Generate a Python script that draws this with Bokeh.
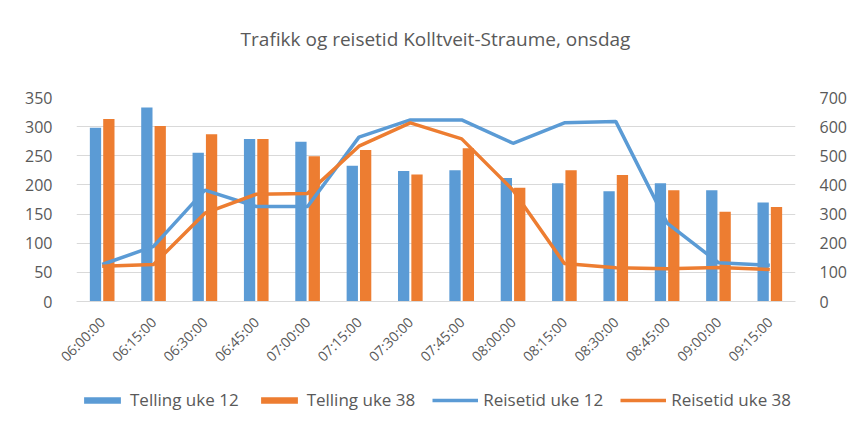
import math
from bokeh.plotting import figure
from bokeh.layouts import column
from bokeh.models import (ColumnDataSource, FactorRange, Range1d, LinearAxis, FixedTicker,
                          Legend, LegendItem, Label)
from bokeh.transform import dodge
from bokeh.embed import file_html
from bokeh.resources import INLINE

times = ["06:00:00", "06:15:00", "06:30:00", "06:45:00", "07:00:00", "07:15:00", "07:30:00",
         "07:45:00", "08:00:00", "08:15:00", "08:30:00", "08:45:00", "09:00:00", "09:15:00"]
telling_uke12 = [298, 333, 255, 279, 274, 233, 224, 225, 212, 203, 189, 203, 191, 170]
telling_uke38 = [313, 301, 287, 279, 249, 260, 218, 263, 195, 225, 217, 191, 154, 162]
reisetid_uke12 = [127, 189, 382, 326, 326, 564, 623, 623, 543, 613, 618, 269, 133, 124]
reisetid_uke38 = [121, 127, 303, 368, 371, 533, 613, 558, 382, 130, 116, 112, 117, 110]
left_ticks = [0, 50, 100, 150, 200, 250, 300, 350]
right_ticks = [0, 100, 200, 300, 400, 500, 600, 700]
title_text = "Trafikk og reisetid Kolltveit-Straume, onsdag"
series_names = ["Telling uke 12", "Telling uke 38", "Reisetid uke 12", "Reisetid uke 38"]

BLUE = "#5B9BD5"
ORANGE = "#ED7D31"
TXT = "#595959"
GRID = "#D9D9D9"
FONT = "Open Sans"
W = 853
BL, BR = 76, 58  # shared left/right borders so the column aligns all frames

src = ColumnDataSource(dict(t=times, a=telling_uke12, b=telling_uke38,
                            r12=reisetid_uke12, r38=reisetid_uke38))

# ---------- header (title) ----------
ph = figure(width=W, height=72, x_range=Range1d(0, 1), y_range=Range1d(0, 1),
            x_axis_type=None, y_axis_type=None, output_backend="svg", toolbar_location=None,
            min_border_left=BL, min_border_right=BR, min_border_top=0, min_border_bottom=0)
ph.outline_line_color = None
ph.xgrid.visible = False
ph.ygrid.visible = False
ph.add_layout(Label(x=359, y=34, x_units="screen", y_units="screen", text=title_text,
                    text_align="center", text_baseline="middle", text_font=FONT,
                    text_font_size="19px", text_color=TXT))

# ---------- main chart ----------
p = figure(width=W, height=303, x_range=FactorRange(factors=times),
           y_range=Range1d(0, 350), output_backend="svg", toolbar_location=None,
           min_border_left=BL, min_border_right=BR, min_border_top=25, min_border_bottom=73)
p.extra_y_ranges = {"right": Range1d(0, 700)}
p.x_range.range_padding = 0
p.outline_line_color = None

b1 = p.vbar(x=dodge("t", -0.13, range=p.x_range), top="a", width=0.22, source=src,
            fill_color=BLUE, line_color=None)
b2 = p.vbar(x=dodge("t", 0.13, range=p.x_range), top="b", width=0.22, source=src,
            fill_color=ORANGE, line_color=None)
l1 = p.line(x="t", y="r12", source=src, y_range_name="right", line_color=BLUE, line_width=3.5)
l2 = p.line(x="t", y="r38", source=src, y_range_name="right", line_color=ORANGE, line_width=3.5)

ya = p.yaxis[0]
ya.ticker = FixedTicker(ticks=left_ticks)
ya.axis_line_color = None
ya.major_tick_line_color = None
ya.minor_tick_line_color = None
ya.major_label_standoff = 18
ya.major_label_text_font = FONT
ya.major_label_text_font_size = "16px"
ya.major_label_text_color = TXT

ra = LinearAxis(y_range_name="right", ticker=FixedTicker(ticks=right_ticks))
ra.axis_line_color = None
ra.major_tick_line_color = None
ra.minor_tick_line_color = None
ra.major_label_standoff = 18
ra.major_label_text_font = FONT
ra.major_label_text_font_size = "16px"
ra.major_label_text_color = TXT
p.add_layout(ra, "right")

xa = p.xaxis[0]
xa.axis_line_color = GRID
xa.major_tick_line_color = None
xa.minor_tick_line_color = None
xa.major_label_orientation = math.pi / 4
xa.major_label_text_font = FONT
xa.major_label_text_font_size = "14px"
xa.major_label_text_color = TXT
xa.major_label_standoff = 12

p.xgrid.grid_line_color = None
p.ygrid.grid_line_color = GRID
p.ygrid.ticker = FixedTicker(ticks=left_ticks)

# ---------- legend strip ----------
pl = figure(width=W, height=50, x_range=FactorRange(factors=times), y_range=Range1d(0, 350),
            x_axis_type=None, y_axis_type=None, output_backend="svg", toolbar_location=None,
            min_border_left=BL, min_border_right=BR, min_border_top=0, min_border_bottom=0)
pl.outline_line_color = None
pl.xgrid.visible = False
pl.ygrid.visible = False
g1 = pl.vbar(x="t", top="a", width=0.2, source=src, fill_color=BLUE, line_color=None, visible=False)
g2 = pl.vbar(x="t", top="b", width=0.2, source=src, fill_color=ORANGE, line_color=None, visible=False)
g3 = pl.line(x="t", y="r12", source=src, line_color=BLUE, line_width=3.5, visible=False)
g4 = pl.line(x="t", y="r38", source=src, line_color=ORANGE, line_width=3.5, visible=False)
legend = Legend(items=[LegendItem(label=n, renderers=[g]) for n, g in
                       zip(series_names, [g1, g2, g3, g4])],
                orientation="horizontal", location=(3, 14))
legend.glyph_width = 46
legend.glyph_height = 8
legend.label_standoff = 5
legend.spacing = 17
legend.label_text_font = FONT
legend.label_text_font_size = "17px"
legend.label_text_color = TXT
legend.border_line_color = None
legend.background_fill_alpha = 0
legend.inactive_fill_alpha = 0
legend.padding = 0
legend.margin = 0
pl.add_layout(legend, "center")

layout = column(ph, p, pl, spacing=0)

open("out.html", "w").write(file_html(layout, INLINE))
